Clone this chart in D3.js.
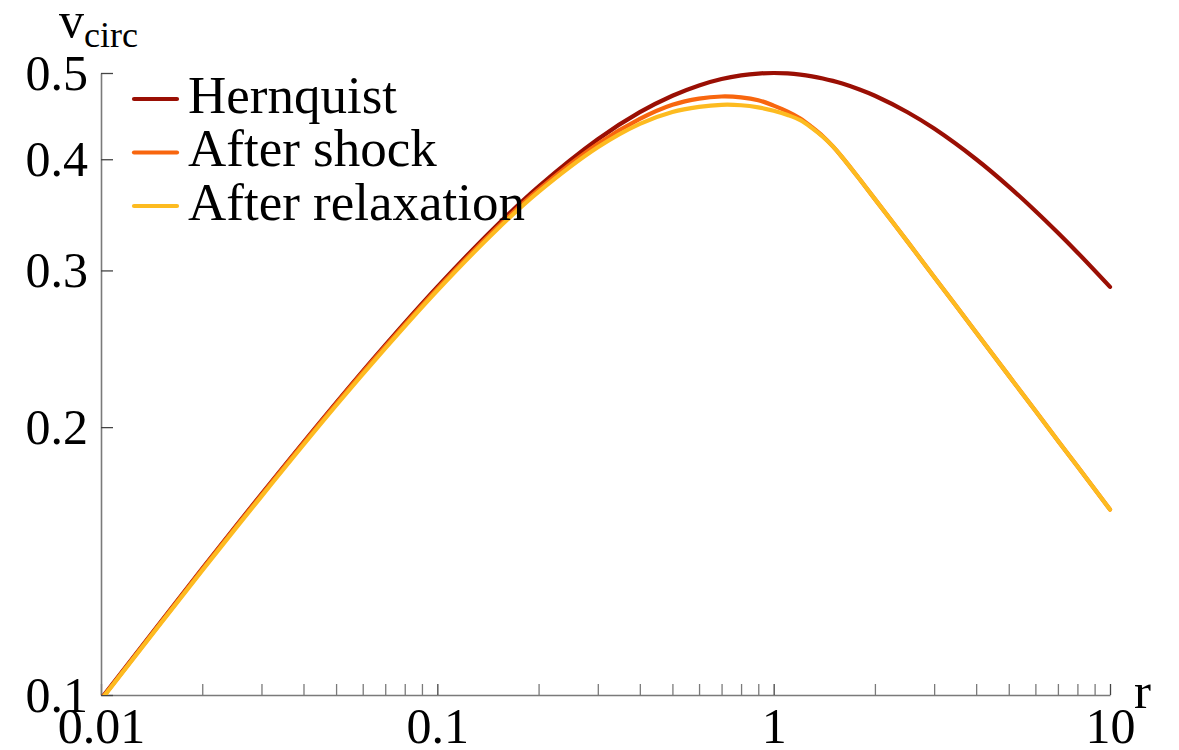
<!DOCTYPE html>
<html>
<head>
<meta charset="utf-8">
<script src="https://cdn.jsdelivr.net/npm/d3@7"></script>
<style>
  html, body { margin: 0; padding: 0; background: #fff; }
  svg { display: block; }
  text { font-family: "Liberation Serif", "Times New Roman", serif; fill: #000; }
</style>
</head>
<body>
<svg id="chart" width="1179" height="750"></svg>
<script>
// Radius samples (log-spaced)
const radii = [0.01, 0.02, 0.03, 0.05, 0.07, 0.1, 0.15, 0.2, 0.3, 0.4, 0.5, 0.6, 0.7, 0.8, 0.9,
               1.0, 1.1, 1.2, 1.3, 1.4, 1.5, 1.6, 1.8, 2, 2.5, 3, 4, 5, 6, 7, 8, 10];

// Circular velocity profiles
const hernquist = [0.0990, 0.1387, 0.1682, 0.2130, 0.2473, 0.2875, 0.3368, 0.3727, 0.4213, 0.4518,
                   0.4714, 0.4841, 0.4922, 0.4969, 0.4993, 0.5000, 0.4994, 0.4979, 0.4957, 0.4930,
                   0.4899, 0.4865, 0.4791, 0.4714, 0.4517, 0.4330, 0.4000, 0.3727, 0.3499, 0.3307,
                   0.3143, 0.2875];
const afterShock = [0.0988, 0.1384, 0.1678, 0.2124, 0.2464, 0.2862, 0.3347, 0.3697, 0.4162, 0.4440,
                    0.4605, 0.4680, 0.4705, 0.4695, 0.4660, 0.4595, 0.4525, 0.4445, 0.4345, 0.4245,
                    0.4135, 0.4020, 0.3800, 0.3608, 0.3232, 0.2950, 0.2555, 0.2285, 0.2086, 0.1931,
                    0.1807, 0.1616];
const afterRelaxation = [0.0987, 0.1380, 0.1672, 0.2115, 0.2452, 0.2848, 0.3331, 0.3675, 0.4125, 0.4383,
                         0.4520, 0.4580, 0.4605, 0.4600, 0.4575, 0.4535, 0.4485, 0.4425, 0.4335, 0.4240,
                         0.4135, 0.4020, 0.3800, 0.3608, 0.3232, 0.2950, 0.2555, 0.2285, 0.2086, 0.1931,
                         0.1807, 0.1616];

const seriesNames = ["Hernquist", "After shock", "After relaxation"];
const seriesColors = ["#9a0f04", "#f8660e", "#fdbb20"];

const xMajorTicks = [0.01, 0.1, 1, 10];
const xTickLabels = ["0.01", "0.1", "1", "10"];
const yTicks = [0.1, 0.2, 0.3, 0.4, 0.5];
const yTickLabels = ["0.1", "0.2", "0.3", "0.4", "0.5"];

const svg = d3.select("#chart");
const x = d3.scaleLog().domain([0.01, 10]).range([101, 1110]);
const y = d3.scaleLog().domain([0.1, 0.5]).range([695, 73]);

// minor ticks: 2..9 within each decade
const xMinorTicks = [];
[0.01, 0.1, 1].forEach(d => { for (let k = 2; k <= 9; k++) xMinorTicks.push(+(d * k).toPrecision(3)); });

svg.append("defs").append("clipPath").attr("id", "plot-clip")
  .append("rect").attr("x", x.range()[0]).attr("y", y.range()[1] - 10)
  .attr("width", x.range()[1] - x.range()[0] + 10).attr("height", y.range()[0] - y.range()[1] + 10);

const tickFont = 50;
const legendFont = 53;
const axisColor = "#7a7a7a";
const serif = '"Liberation Serif", "Times New Roman", serif';

// x axis
const xAxis = d3.axisBottom(x)
  .tickValues(xMajorTicks.concat(xMinorTicks))
  .tickSizeInner(-11).tickSizeOuter(0).tickPadding(12)
  .tickFormat(d => { const i = xMajorTicks.indexOf(d); return i >= 0 ? xTickLabels[i] : ""; });
const gx = svg.append("g").attr("transform", `translate(0,${y.range()[0]})`).call(xAxis);
gx.select(".domain").attr("stroke", axisColor).attr("stroke-width", 1.6);
gx.selectAll(".tick line").attr("stroke", d => xMajorTicks.includes(d) ? "#444" : axisColor).attr("stroke-width", 1.3);
gx.selectAll(".tick text").attr("font-size", tickFont).attr("fill", "#000").style("font-family", serif);

// y axis
const yAxis = d3.axisLeft(y)
  .tickValues(yTicks)
  .tickSizeInner(-12).tickSizeOuter(0).tickPadding(13)
  .tickFormat((d, i) => yTickLabels[i]);
const gy = svg.append("g").attr("transform", `translate(${x.range()[0]},0)`).call(yAxis);
gy.select(".domain").attr("stroke", axisColor).attr("stroke-width", 1.6);
gy.selectAll(".tick line").attr("stroke", "#444").attr("stroke-width", 1.3);
gy.selectAll(".tick text").attr("font-size", tickFont).attr("fill", "#000").style("font-family", serif);

// curves
const line = d3.line()
  .x(d => x(d[0])).y(d => y(d[1]))
  .curve(d3.curveCatmullRom.alpha(0.5));
const seriesValues = [hernquist, afterShock, afterRelaxation];
const plot = svg.append("g").attr("clip-path", "url(#plot-clip)");
seriesValues.forEach((vals, i) => {
  plot.append("path")
    .datum(radii.map((r, j) => [r, vals[j]]))
    .attr("fill", "none")
    .attr("stroke", seriesColors[i])
    .attr("stroke-width", 4.2)
    .attr("stroke-linecap", "round")
    .attr("stroke-linejoin", "round")
    .attr("d", line);
});

// legend
const legend = svg.append("g");
seriesNames.forEach((name, i) => {
  const ly = 99 + i * 53.5;
  legend.append("line").attr("x1", 134).attr("x2", 177).attr("y1", ly).attr("y2", ly)
    .attr("stroke", seriesColors[i]).attr("stroke-width", 4.2).attr("stroke-linecap", "round");
  legend.append("text").attr("x", 188).attr("y", ly + 13.5).attr("font-size", legendFont).text(name);
});

// axis titles
const yTitle = svg.append("text").attr("x", 59).attr("y", 37).attr("font-size", 50);
yTitle.append("tspan").text("v");
yTitle.append("tspan").attr("font-size", 36).attr("dy", 10).text("circ");
svg.append("text").attr("x", 1134).attr("y", 708).attr("font-size", 51).text("r");
</script>
</body>
</html>
